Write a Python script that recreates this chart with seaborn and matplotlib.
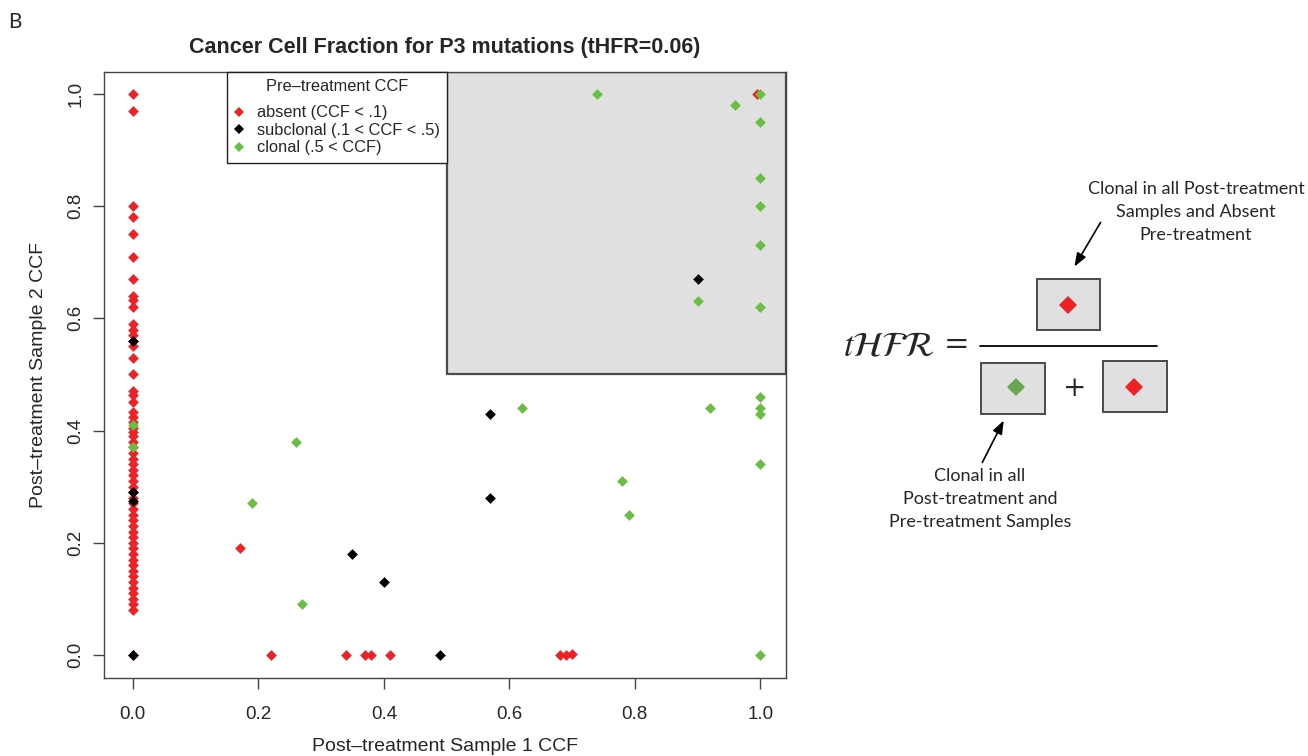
import matplotlib
matplotlib.use("Agg")
import matplotlib.pyplot as plt
import seaborn as sns
import pandas as pd
from matplotlib.patches import Rectangle
from matplotlib.lines import Line2D

# ---------------- data ----------------
red_x = [0.0] * 58 + [0.17, 0.22, 0.34, 0.37, 0.38, 0.41, 0.68, 0.69, 0.70, 0.995]
red_y = [1.00, 0.97, 0.80, 0.78, 0.75, 0.71, 0.67, 0.64, 0.633, 0.62, 0.59, 0.58,
         0.57, 0.56, 0.55, 0.53, 0.50, 0.47, 0.463, 0.45, 0.433, 0.424, 0.415,
         0.405, 0.398, 0.39, 0.38, 0.37, 0.36, 0.35, 0.34, 0.33, 0.32, 0.31, 0.30,
         0.29, 0.28, 0.27, 0.26, 0.25, 0.24, 0.23, 0.22, 0.21, 0.20, 0.19, 0.18,
         0.17, 0.16, 0.15, 0.14, 0.13, 0.12, 0.11, 0.10, 0.09, 0.08, 0.0,
         0.19, 0.0, 0.0, 0.0, 0.0, 0.0, 0.0, 0.0, 0.002, 1.0]

black_x = [0.0, 0.0, 0.0, 0.0, 0.35, 0.40, 0.49, 0.57, 0.57, 0.90]
black_y = [0.56, 0.29, 0.275, 0.0, 0.18, 0.13, 0.0, 0.43, 0.28, 0.67]

green_x = [0.0, 0.0, 0.19, 0.26, 0.27, 0.62, 0.78, 0.79, 0.92, 1.0, 1.0, 1.0,
           1.0, 1.0, 0.74, 0.96, 1.0, 1.0, 1.0, 1.0, 1.0, 0.90, 1.0]
green_y = [0.41, 0.37, 0.27, 0.38, 0.09, 0.44, 0.31, 0.25, 0.44, 0.46, 0.44,
           0.43, 0.34, 0.0, 1.0, 0.98, 1.0, 0.95, 0.85, 0.80, 0.73, 0.63, 0.62]

groups = ["absent (CCF < .1)", "subclonal (.1 < CCF < .5)", "clonal (.5 < CCF)"]
colors = {"absent (CCF < .1)": "#EC2227",
          "subclonal (.1 < CCF < .5)": "#000000",
          "clonal (.5 < CCF)": "#6ABD45"}
x_ticks = [0.0, 0.2, 0.4, 0.6, 0.8, 1.0]
tick_labels = ["0.0", "0.2", "0.4", "0.6", "0.8", "1.0"]

df = pd.concat([
    pd.DataFrame({"x": red_x, "y": red_y, "g": groups[0]}),
    pd.DataFrame({"x": black_x, "y": black_y, "g": groups[1]}),
    pd.DataFrame({"x": green_x, "y": green_y, "g": groups[2]}),
], ignore_index=True)

# ---------------- style ----------------
sns.set_style("ticks")
plt.rcParams["font.family"] = ["Liberation Sans", "DejaVu Sans"]
plt.rcParams["axes.edgecolor"] = "#444444"
plt.rcParams["axes.linewidth"] = 1.0

W, H = 1308, 756
fig = plt.figure(figsize=(W / 100, H / 100), dpi=100)
ax = fig.add_axes([104 / W, 1 - 678 / H, 682 / W, 606 / H])

ax.set_xlim(-0.046, 1.041)
ax.set_ylim(-0.041, 1.039)

# grey region (post-treatment clonal in both samples)
ax.add_patch(Rectangle((0.5, 0.5), 0.541, 0.539, facecolor="#DFE0DF",
                       edgecolor="#4a4a4a", linewidth=1.6, zorder=0.5))

for i, g in enumerate(groups):
    sub = df[df["g"] == g]
    sns.scatterplot(data=sub, x="x", y="y", color=colors[g], marker="D",
                    s=30, linewidth=0, ax=ax, zorder=3 + i, legend=False)

ax.set_xticks(x_ticks)
ax.set_xticklabels(tick_labels)
ax.set_yticks(x_ticks)
ax.set_yticklabels(tick_labels, rotation=90, va="center")
ax.tick_params(axis="both", direction="out", length=8, width=1,
               color="#444444", labelsize=13.5)
ax.tick_params(axis="x", pad=12)
ax.tick_params(axis="y", pad=6)
for s in ax.spines.values():
    s.set_visible(True)

ax.set_xlabel("Post\u2013treatment Sample 1 CCF", fontsize=14, labelpad=11)
ax.set_ylabel("Post\u2013treatment Sample 2 CCF", fontsize=14, labelpad=15)
ax.set_title("Cancer Cell Fraction for P3 mutations (tHFR=0.06)",
             fontsize=15.5, fontweight="bold", pad=14)

handles = [Line2D([], [], linestyle="none", marker="D", markersize=5.5,
                  markerfacecolor=colors[g], markeredgewidth=0) for g in groups]
leg = ax.legend(handles, groups, title="Pre\u2013treatment CCF",
                loc="upper left", bbox_to_anchor=(0.180, 1.0),
                borderaxespad=0, fancybox=False, framealpha=1,
                edgecolor="#222222", fontsize=11.75, title_fontsize=11.75,
                labelspacing=0.15, handletextpad=0.8, handlelength=0.6,
                borderpad=0.45)
leg._legend_box.sep = 8
leg.get_frame().set_linewidth(1.0)
leg.set_zorder(10)

# ---------------- right-hand annotation ----------------
deco = fig.add_axes([0, 0, 1, 1], zorder=-1)
deco.set_xlim(0, W)
deco.set_ylim(H, 0)
deco.axis("off")

fig.text(15 / W, 1 - 22 / H, "B", fontsize=15, family="Lato",
         ha="center", va="center")

deco.text(843, 347, r"$t\mathcal{HFR}$", fontsize=25, math_fontfamily="stix",
          ha="left", va="center")
deco.text(944, 345, "=", fontsize=22, family="DejaVu Serif", ha="left", va="center")
deco.plot([980, 1157], [346, 346], color="black", lw=1.3)

box_kw = dict(facecolor="#DFE0DF", edgecolor="#4a4a4a", linewidth=1.4)
deco.add_patch(Rectangle((1037, 279), 63, 51, **box_kw))
deco.add_patch(Rectangle((981, 363), 64, 51, **box_kw))
deco.add_patch(Rectangle((1103, 361), 64, 51, **box_kw))
deco.plot([1068], [305], marker="D", markersize=9, color="#EC2227", mew=0)
deco.plot([1016], [387], marker="D", markersize=9, color="#6AA84F", mew=0)
deco.plot([1134], [387], marker="D", markersize=9, color="#EC2227", mew=0)
deco.text(1075, 388, "+", fontsize=20, family="DejaVu Serif",
          ha="center", va="center")

deco.annotate("", xy=(1073, 269), xytext=(1102, 220),
              arrowprops=dict(arrowstyle="-|>,head_length=0.8,head_width=0.3",
                              color="black", lw=1.2))
deco.annotate("", xy=(1005, 418), xytext=(981, 465),
              arrowprops=dict(arrowstyle="-|>,head_length=0.8,head_width=0.3",
                              color="black", lw=1.2))

deco.text(1196, 212, "Clonal in all Post-treatment\nSamples and Absent\nPre-treatment",
          fontsize=13, family="Lato", ha="center", va="center", linespacing=1.55)
deco.text(980, 499, "Clonal in all\nPost-treatment and\nPre-treatment Samples",
          fontsize=13, family="Lato", ha="center", va="center", linespacing=1.55)

fig.savefig("out.png", dpi=100)
